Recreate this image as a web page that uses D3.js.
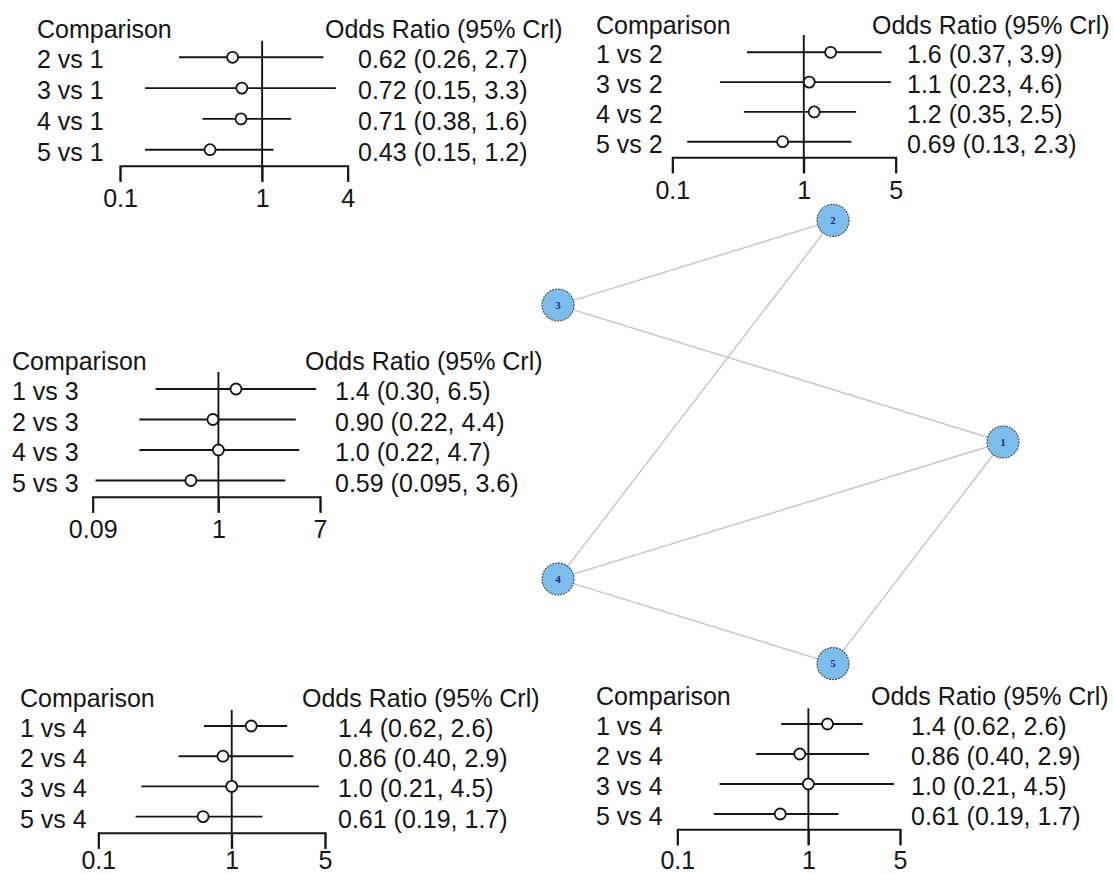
<!DOCTYPE html>
<meta charset="utf-8">
<style>
  body { margin: 0; background: #fff; }
  text { font-family: "Liberation Sans", Arial, sans-serif; font-size: 25px; fill: #151515; }
  .ci, .ref { stroke: #151515; stroke-width: 1.9; }
  .axis path, .axis line { stroke: #151515; stroke-width: 1.9; }
  .pt { fill: #fff; stroke: #151515; stroke-width: 1.8; }
  .edge { stroke: #c4c4c4; stroke-width: 1.4; }
  .node { fill: #7dbdec; stroke: #4a4a4a; stroke-width: 1.1; stroke-dasharray: 2 1; }
  .node-label { font-family: "Liberation Serif", "DejaVu Serif", serif; font-size: 11px; font-weight: bold; fill: #1f2d9e; }
</style>
<body>
<script src="https://d3js.org/d3.v7.min.js"></script>
<script>
// forest plot data, one set per reference treatment
var comp1 = ["2 vs 1", "3 vs 1", "4 vs 1", "5 vs 1"];
var est1  = [0.62, 0.72, 0.71, 0.43];
var lo1   = [0.26, 0.15, 0.38, 0.15];
var hi1   = [2.7, 3.3, 1.6, 1.2];
var ticks1 = [0.1, 1, 4];

var comp2 = ["1 vs 2", "3 vs 2", "4 vs 2", "5 vs 2"];
var est2  = [1.6, 1.1, 1.2, 0.69];
var lo2   = [0.37, 0.23, 0.35, 0.13];
var hi2   = [3.9, 4.6, 2.5, 2.3];
var ticks2 = [0.1, 1, 5];

var comp3 = ["1 vs 3", "2 vs 3", "4 vs 3", "5 vs 3"];
var est3  = [1.4, 0.90, 1.0, 0.59];
var lo3   = [0.30, 0.22, 0.22, 0.095];
var hi3   = [6.5, 4.4, 4.7, 3.6];
var ticks3 = [0.09, 1, 7];

var comp4 = ["1 vs 4", "2 vs 4", "3 vs 4", "5 vs 4"];
var est4  = [1.4, 0.86, 1.0, 0.61];
var lo4   = [0.62, 0.40, 0.21, 0.19];
var hi4   = [2.6, 2.9, 4.5, 1.7];
var ticks4 = [0.1, 1, 5];

// network
var treatments = ["1", "2", "3", "4", "5"];
var edges = [["3", "2"], ["2", "4"], ["3", "1"], ["1", "4"], ["1", "5"], ["4", "5"]];

var width = 1114,
    height = 875;

var svg = d3.select("body").append("svg")
    .attr("width", width)
    .attr("height", height);

var fmt = d3.format(".2r");

// panel placement
var panels = [
  { comp: comp1, est: est1, lo: lo1, hi: hi1, ticks: ticks1, range: [120, 347.7],
    labelX: 37, headerX: 325, valueX: 358, row0: 57.3, step: 30.8, axisY: 165.7, vTop: 40.7, pad: 8 },
  { comp: comp2, est: est2, lo: lo2, hi: hi2, ticks: ticks2, range: [672.3, 895.7],
    labelX: 596, headerX: 872, valueX: 907, row0: 52.3, step: 29.8, axisY: 157.3, vTop: 35, pad: 8 },
  { comp: comp3, est: est3, lo: lo3, hi: hi3, ticks: ticks3, range: [92.7, 320],
    labelX: 12, headerX: 305, valueX: 335, row0: 389, step: 30.5, axisY: 496.7, vTop: 372, pad: 8 },
  { comp: comp4, est: est4, lo: lo4, hi: hi4, ticks: ticks4, range: [98.3, 325],
    labelX: 20, headerX: 302, valueX: 338, row0: 726, step: 30.2, axisY: 832.7, vTop: 710, pad: 3 },
  { comp: comp4, est: est4, lo: lo4, hi: hi4, ticks: ticks4, range: [677.3, 900],
    labelX: 596, headerX: 871, valueX: 911, row0: 724, step: 30, axisY: 829.3, vTop: 708.3, pad: 6 }
];

var tickLen = 16;

panels.forEach(function(p) {
  var g = svg.append("g");
  var x = d3.scaleLog().domain(d3.extent(p.ticks)).range(p.range);
  var y = function(i) { return p.row0 + i * p.step; };
  var rows = p.comp.map(function(c, i) {
    return { comp: c, est: p.est[i], lo: p.lo[i], hi: p.hi[i], i: i };
  });

  g.append("text").attr("x", p.labelX).attr("y", y(-1) + 11).text("Comparison");
  g.append("text").attr("x", p.headerX).attr("y", y(-1) + 11).text("Odds Ratio (95% Crl)");

  g.append("g")
      .attr("class", "axis")
      .attr("transform", "translate(0," + p.axisY + ")")
      .call(d3.axisBottom(x).tickValues(p.ticks).tickFormat(function(d) { return String(d); })
        .tickSize(tickLen).tickPadding(p.pad))
      .call(function(a) {
        a.attr("font-size", null).attr("font-family", null);
      });

  g.append("line")
      .attr("class", "ref")
      .attr("x1", x(1)).attr("x2", x(1))
      .attr("y1", p.vTop).attr("y2", p.axisY + tickLen);

  var r = g.selectAll(".row").data(rows).enter().append("g").attr("class", "row");

  r.append("text")
      .attr("x", p.labelX)
      .attr("y", function(d) { return y(d.i) + 11; })
      .text(function(d) { return d.comp; });

  r.append("line")
      .attr("class", "ci")
      .attr("x1", function(d) { return x(d.lo); })
      .attr("x2", function(d) { return x(d.hi); })
      .attr("y1", function(d) { return y(d.i); })
      .attr("y2", function(d) { return y(d.i); });

  r.append("circle")
      .attr("class", "pt")
      .attr("cx", function(d) { return x(d.est); })
      .attr("cy", function(d) { return y(d.i); })
      .attr("r", 5.5);

  r.append("text")
      .attr("x", p.valueX)
      .attr("y", function(d) { return y(d.i) + 11; })
      .text(function(d) { return fmt(d.est) + " (" + fmt(d.lo) + ", " + fmt(d.hi) + ")"; });
});

// circular network layout
var nx = d3.scaleLinear().domain([-1, 1]).range([511, 1003]);
var ny = d3.scaleLinear().domain([-1, 1]).range([675, 209]);
var pos = {};
treatments.forEach(function(t, i) {
  var a = 2 * Math.PI * i / treatments.length;
  pos[t] = [nx(Math.cos(a)), ny(Math.sin(a))];
});

var net = svg.append("g");

net.selectAll(".edge")
    .data(edges)
  .enter().append("line")
    .attr("class", "edge")
    .attr("x1", function(d) { return pos[d[0]][0]; })
    .attr("y1", function(d) { return pos[d[0]][1]; })
    .attr("x2", function(d) { return pos[d[1]][0]; })
    .attr("y2", function(d) { return pos[d[1]][1]; });

var nodes = net.selectAll(".n")
    .data(treatments)
  .enter().append("g")
    .attr("transform", function(d) { return "translate(" + pos[d] + ")"; });

nodes.append("circle")
    .attr("class", "node")
    .attr("r", 16);

nodes.append("text")
    .attr("class", "node-label")
    .attr("text-anchor", "middle")
    .attr("dy", "0.35em")
    .text(function(d) { return d; });
</script>
